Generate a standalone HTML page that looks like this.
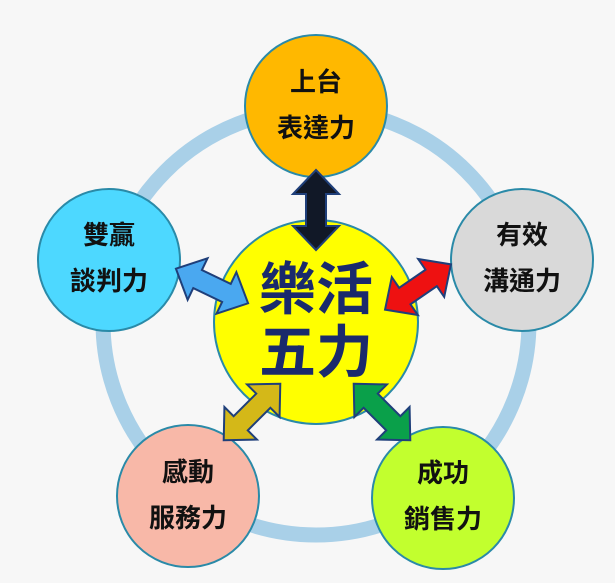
<!DOCTYPE html>
<html><head><meta charset="utf-8"><style>
html,body{margin:0;padding:0;background:#f7f7f7;}
svg{display:block;}
text{font-family:"Liberation Sans","Noto Sans CJK TC",sans-serif;font-weight:bold;text-anchor:middle;}
</style></head><body>
<svg width="615" height="583" viewBox="0 0 615 583" xmlns="http://www.w3.org/2000/svg">
<rect width="615" height="583" fill="#f7f7f7"/>
<circle cx="316" cy="322" r="213" fill="none" stroke="#a9d0e8" stroke-width="15"/>
<defs>
<polygon id="da" points="-40,0 -16,-23 -16,-10 16,-10 16,-23 40,0 16,23 16,10 -16,10 -16,23"/>
</defs>
<circle cx="316" cy="322" r="102" fill="#ffff00" stroke="#2a8aa8" stroke-width="2"/>
<circle cx="316" cy="106" r="71" fill="#ffb800" stroke="#2a8aa8" stroke-width="2"/>
<circle cx="109" cy="260" r="71" fill="#4dd8ff" stroke="#2a8aa8" stroke-width="2"/>
<circle cx="522" cy="260" r="71" fill="#d9d9d9" stroke="#2a8aa8" stroke-width="2"/>
<circle cx="188" cy="496" r="71" fill="#f8b8a8" stroke="#2a8aa8" stroke-width="2"/>
<circle cx="443" cy="498" r="71" fill="#c2ff2e" stroke="#2a8aa8" stroke-width="2"/>
<g stroke="#1f3f7a" stroke-width="2">
<use href="#da" transform="translate(316,210) rotate(90)" fill="#111827"/>
<use href="#da" transform="translate(212,286) rotate(25.6)" fill="#4aa8f0"/>
<use href="#da" transform="translate(418,287) rotate(-34.5)" fill="#ee1111"/>
<use href="#da" transform="translate(252,412) rotate(-45)" fill="#d4b818"/>
<use href="#da" transform="translate(382,412) rotate(45)" fill="#0aa04a"/>
</g>
<g fill="#111" font-size="26">
<text x="316" y="91">上台</text><text x="316" y="137">表達力</text>
<text x="109" y="244">雙贏</text><text x="109" y="290">談判力</text>
<text x="522" y="244">有效</text><text x="522" y="290">溝通力</text>
<text x="188" y="481">感動</text><text x="188" y="527">服務力</text>
<text x="443" y="482">成功</text><text x="443" y="528">銷售力</text>
</g>
<g fill="#1a2a6c" font-size="57">
<text x="316" y="309">樂活</text><text x="316" y="372">五力</text>
</g>
</svg>
</body></html>
